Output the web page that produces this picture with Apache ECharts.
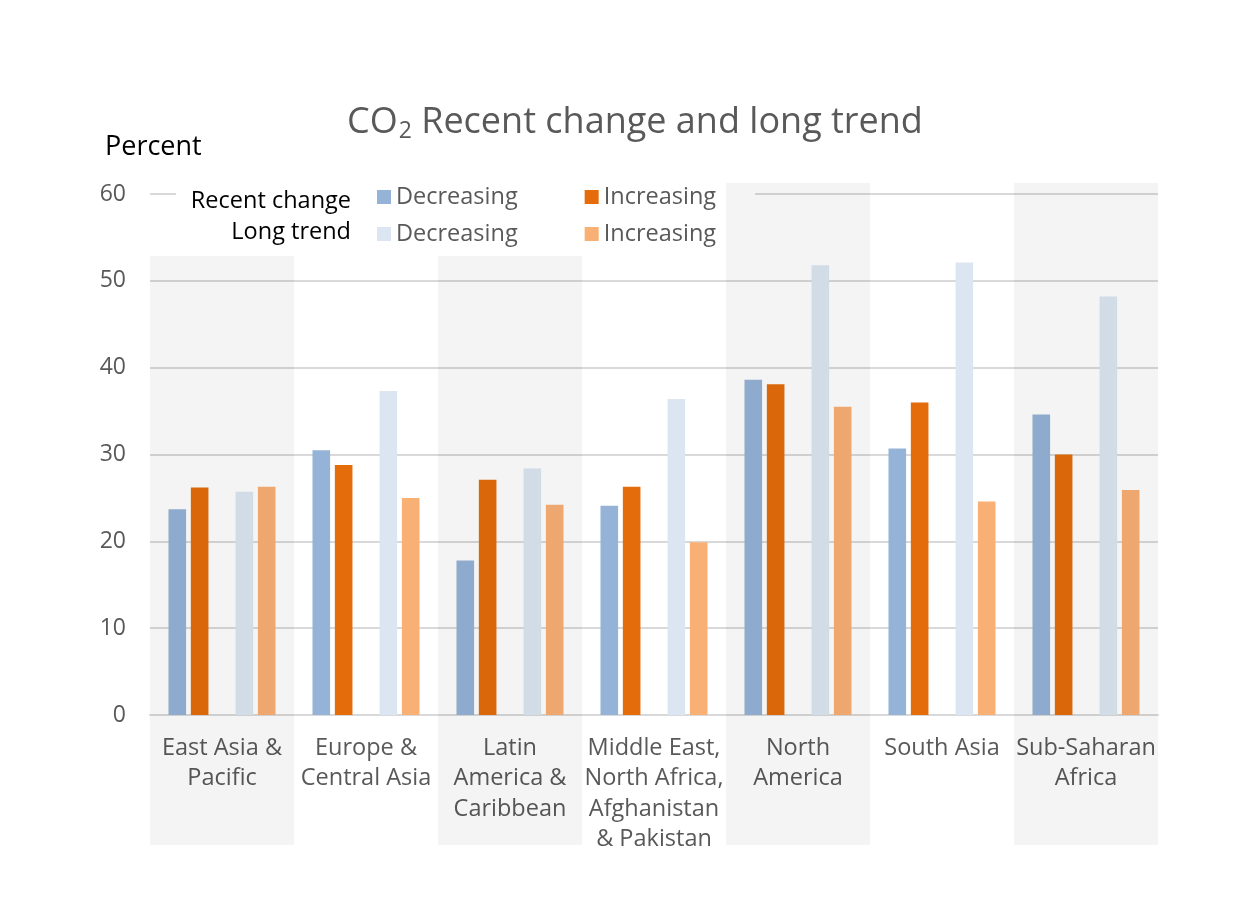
<!DOCTYPE html>
<html>
<head>
<meta charset="utf-8">
<script src="https://cdn.jsdelivr.net/npm/echarts@6/dist/echarts.min.js"></script>
<style>html,body{margin:0;padding:0;background:#fff}#c{width:1251px;height:917px}</style>
</head>
<body>
<div id="c"></div>
<script>
var categories = ['East Asia &\nPacific', 'Europe &\nCentral Asia', 'Latin\nAmerica &\nCaribbean', 'Middle East,\nNorth Africa,\nAfghanistan\n& Pakistan', 'North\nAmerica', 'South Asia', 'Sub-Saharan\nAfrica'];
var recentDecreasing = [23.7, 30.5, 17.8, 24.1, 38.6, 30.7, 34.6];
var recentIncreasing = [26.2, 28.8, 27.1, 26.3, 38.1, 36.0, 30.0];
var spacer = [null, null, null, null, null, null, null];
var longDecreasing = [25.7, 37.3, 28.4, 36.4, 51.8, 52.1, 48.2];
var longIncreasing = [26.3, 25.0, 24.2, 19.9, 35.5, 24.6, 25.9];
var yTicks = [0, 10, 20, 30, 40, 50, 60];

var FONT = 'Open Sans';
var GREY = '#595959';
var SHADE = 'rgba(0,0,0,0.045)';
var NONE = 'rgba(0,0,0,0)';

var chart = echarts.init(document.getElementById('c'));
function bar(name, data, color) {
  return {
    name: name, type: 'bar', data: data, xAxisIndex: 0, yAxisIndex: 0,
    barWidth: 17.6, barGap: '27%', itemStyle: {color: color}, z: 2
  };
}
function legendCfg(names, top) {
  return {
    data: names, left: 377, top: top, padding: 0,
    itemWidth: 14, itemHeight: 14, itemGap: 67, icon: 'rect', z: 6,
    formatter: function (n) { return n.split(' ')[1]; },
    textStyle: {fontSize: 23.5, color: GREY, fontFamily: FONT}
  };
}
var option = {
  backgroundColor: '#fff',
  animation: false,
  textStyle: {fontFamily: FONT},
  title: [{
    text: '{a|CO}{s|2}{a| Recent change and long trend}',
    left: 342, top: 98,
    textStyle: {
      rich: {
        a: {fontSize: 36, color: GREY, fontFamily: FONT, fontWeight: 'normal'},
        s: {fontSize: 23, color: GREY, fontFamily: FONT, fontWeight: 'normal', padding: [17, 0, 0, 1]}
      }
    }
  }, {
    text: 'Percent', left: 100, top: 129,
    textStyle: {fontSize: 27, fontWeight: 'normal', color: '#000', fontFamily: FONT}
  }],
  legend: [
    legendCfg(['Recent Decreasing', 'Recent Increasing'], 185),
    legendCfg(['Long Decreasing', 'Long Increasing'], 222)
  ],
  graphic: [
    {type: 'rect', shape: {x: 176, y: 184, width: 579, height: 70}, style: {fill: '#fff'}, z: 1, silent: true},
    {type: 'text', x: 351, y: 201, z: 7, style: {text: 'Recent change', textAlign: 'right', textVerticalAlign: 'middle', fontSize: 23.5, fill: '#000', fontFamily: FONT}},
    {type: 'text', x: 351, y: 232, z: 7, style: {text: 'Long trend', textAlign: 'right', textVerticalAlign: 'middle', fontSize: 23.5, fill: '#000', fontFamily: FONT}}
  ],
  grid: [
    {left: 150, right: 93, top: 194, bottom: 202},
    {left: 150, right: 93, top: 256, bottom: 72},
    {left: 150, right: 93, top: 183, bottom: 72}
  ],
  xAxis: [{
    type: 'category', data: categories, gridIndex: 0,
    axisLine: {lineStyle: {color: '#D9D9D9', width: 2}},
    axisTick: {show: false},
    axisLabel: {fontSize: 23.5, color: GREY, lineHeight: 30.5, margin: 18, interval: 0, fontFamily: FONT}
  }, {
    type: 'category', data: categories, gridIndex: 1, z: 3,
    axisLine: {show: false}, axisTick: {show: false}, axisLabel: {show: false},
    splitArea: {show: true, interval: 0, areaStyle: {color: [SHADE, NONE, SHADE, NONE, NONE, NONE, NONE]}}
  }, {
    type: 'category', data: categories, gridIndex: 2, z: 3,
    axisLine: {show: false}, axisTick: {show: false}, axisLabel: {show: false},
    splitArea: {show: true, interval: 0, areaStyle: {color: [NONE, NONE, NONE, NONE, SHADE, NONE, SHADE]}}
  }],
  yAxis: [{
    type: 'value', gridIndex: 0, min: yTicks[0], max: yTicks[yTicks.length - 1], interval: 10,
    axisLine: {show: false}, axisTick: {show: false},
    splitLine: {lineStyle: {color: '#D9D9D9', width: 2}},
    axisLabel: {fontSize: 23, color: GREY, margin: 24, fontFamily: FONT}
  }, {
    type: 'value', gridIndex: 1, show: false
  }, {
    type: 'value', gridIndex: 2, show: false
  }],
  series: [
    bar('Recent Decreasing', recentDecreasing, '#95B3D7'),
    bar('Recent Increasing', recentIncreasing, '#E46C0A'),
    bar('spacer', spacer, NONE),
    bar('Long Decreasing', longDecreasing, '#DCE6F2'),
    bar('Long Increasing', longIncreasing, '#F9B074')
  ]
};
chart.setOption(option);
</script>
</body>
</html>
